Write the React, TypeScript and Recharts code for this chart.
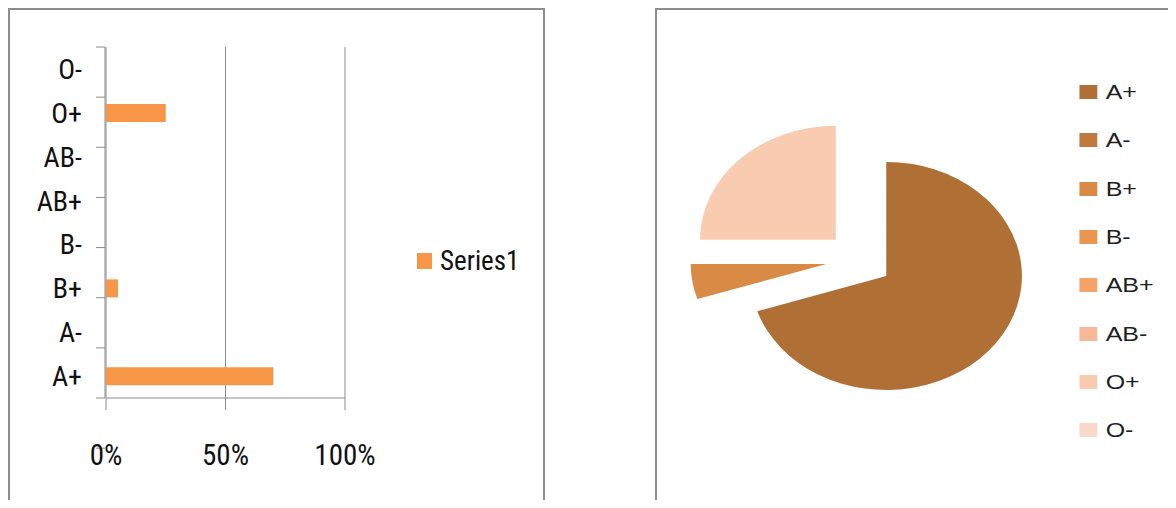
import React from "react";
import { Bar, BarChart, CartesianGrid, Cell, Legend, Pie, PieChart, Sector, XAxis, YAxis } from "recharts";

const bloodGroups = ["A+", "A-", "B+", "B-", "AB+", "AB-", "O+", "O-"];
const shares = [70, 0, 5, 0, 0, 0, 25, 0];
const percentTicks = [0, 50, 100];
const bandEdges = [0, 1, 2, 3, 4, 5, 6, 7, 8];
const seriesName = "Series1";
const pieColors = ["#AF6F35", "#C07A3D", "#D98A45", "#EC954F", "#F5A366", "#F6B895", "#F9CBB1", "#FAD9CA"];

const rows = bloodGroups.map((group, i) => ({ group, value: shares[i] }));

const GRID = "#8c8c8c";
const NARROW = "'Liberation Sans Narrow', 'Roboto Condensed', 'Liberation Sans', sans-serif";
const RAD = Math.PI / 180;
const EXPLODE = 28;

const keepOrder = (item: any) => bloodGroups.indexOf(item.value);

function SeriesLegend({ payload }: any) {
  return (
    <div style={{ fontFamily: NARROW, fontSize: 27, color: "#111" }}>
      {(payload || []).map((item: any) => (
        <div key={item.value} style={{ display: "flex", alignItems: "center", height: 30 }}>
          <span style={{ width: 15, height: 16, background: item.color, marginRight: 8 }} />
          <span>{item.value}</span>
        </div>
      ))}
    </div>
  );
}

function PieLegend({ payload }: any) {
  return (
    <div style={{ fontFamily: "'Liberation Sans', Arial, sans-serif", fontSize: 21, color: "#1f1f1f" }}>
      {(payload || []).map((item: any) => (
        <div key={item.value} style={{ display: "flex", alignItems: "center", height: 48.3 }}>
          <span style={{ width: 15, height: 14, background: item.color, marginRight: 7 }} />
          <span>{item.value}</span>
        </div>
      ))}
    </div>
  );
}

// every slice pushed out along its middle angle, like Excel's exploded pie
function explodedSlice(props: any) {
  const dx = EXPLODE * Math.cos(-props.midAngle * RAD);
  const dy = EXPLODE * Math.sin(-props.midAngle * RAD);
  return (
    <g transform={`translate(${dx} ${dy})`}>
      <Sector {...props} stroke="none" />
    </g>
  );
}

export default function App() {
  return (
    <div style={{ position: "relative", width: 1160, height: 492 }}>
      <style>{"html,body{overflow:hidden}"}</style>

      <div
        style={{
          position: "absolute",
          left: 0,
          top: 0,
          width: 533,
          height: 510,
          borderTop: `2px solid ${GRID}`,
          borderLeft: `2px solid ${GRID}`,
          borderRight: `2px solid ${GRID}`,
        }}
      >
        <BarChart
          width={527}
          height={490}
          data={rows}
          layout="vertical"
          margin={{ top: 37, right: 192, bottom: 0, left: 94 }}
          style={{ position: "absolute", left: 0, top: 0 }}
        >
          <CartesianGrid horizontal={false} stroke={GRID} />
          <XAxis
            type="number"
            domain={[0, 100]}
            ticks={percentTicks}
            tickFormatter={(v: number) => `${v}%`}
            height={102}
            tickSize={12}
            tickMargin={34}
            axisLine={{ stroke: GRID }}
            tickLine={{ stroke: GRID }}
            tick={{ fill: "#111", fontSize: 29, fontFamily: NARROW }}
          />
          <YAxis
            type="category"
            dataKey="group"
            reversed
            width={1}
            tickSize={0}
            tickMargin={24}
            axisLine={false}
            tickLine={false}
            tick={{ fill: "#111", fontSize: 28, fontFamily: NARROW }}
            interval={0}
          />
          <YAxis
            yAxisId="edges"
            type="number"
            domain={[0, 8]}
            ticks={bandEdges}
            width={1}
            tickSize={9}
            tickFormatter={() => ""}
            axisLine={{ stroke: GRID }}
            tickLine={{ stroke: GRID }}
          />
          <Bar dataKey="value" name={seriesName} fill="#F79646" barSize={18} isAnimationActive={false} />
          <Legend
            layout="vertical"
            align="center"
            verticalAlign="middle"
            wrapperStyle={{ left: 407, top: 236, width: 110 }}
            content={<SeriesLegend />}
          />
        </BarChart>
      </div>

      <div
        style={{
          position: "absolute",
          left: 647,
          top: 0,
          width: 521,
          height: 510,
          borderTop: `2px solid ${GRID}`,
          borderLeft: `2px solid ${GRID}`,
          overflow: "hidden",
        }}
      >
        <div style={{ position: "absolute", left: 0, top: 0, transform: "scaleX(1.19)", transformOrigin: "0 0" }}>
          <PieChart width={436} height={490} margin={{ top: 0, right: 0, bottom: 0, left: 0 }}>
            <Pie
              data={rows}
              dataKey="value"
              nameKey="group"
              cx={170}
              cy={249.5}
              outerRadius={114}
              startAngle={90}
              endAngle={-270}
              stroke="none"
              shape={explodedSlice}
              isAnimationActive={false}
            >
              {rows.map((r, i) => (
                <Cell key={r.group} fill={pieColors[i]} />
              ))}
            </Pie>
            <Legend
              layout="vertical"
              align="center"
              verticalAlign="middle"
              itemSorter={keepOrder}
              wrapperStyle={{ left: 355, top: 58, width: 80 }}
              content={<PieLegend />}
            />
          </PieChart>
        </div>
      </div>
    </div>
  );
}
